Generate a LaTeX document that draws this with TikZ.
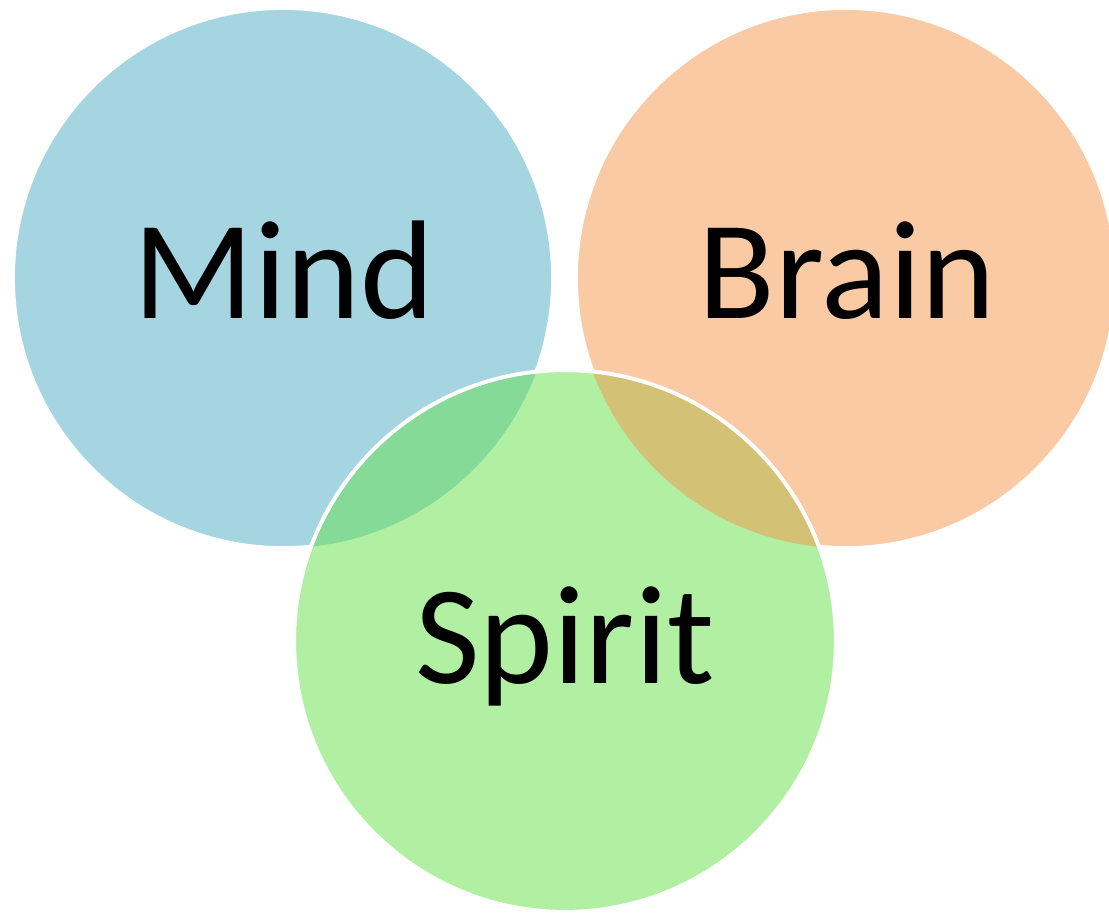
\documentclass[tikz,border=0pt]{standalone}
\usepackage{fontspec}
\setmainfont{Carlito}
\usepackage{tikz}
\usetikzlibrary{positioning}
\definecolor{mindblau}{HTML}{A6D5E2}
\definecolor{brainorange}{HTML}{F9CAA4}
\definecolor{spiritgruen}{HTML}{B1EFA3}
\definecolor{mindspirit}{HTML}{84DA96}
\definecolor{brainspirit}{HTML}{D3C276}

\begin{document}
\begin{tikzpicture}[x=0.025cm, y=-0.025cm]

    % --- Stile ---
    \tikzset{
        kreis/.style={draw=white, line width=2.8pt},
        wort/.style={anchor=base, inner sep=0pt, font=\fontsize{100}{120}\selectfont}
    }

    \useasboundingbox (0,0) rectangle (1109,913);
    \clip (0,0) rectangle (1109,913);

    % --- Kreise ---
    \coordinate (M) at (283,278);
    \coordinate (B) at (846,278);
    \coordinate (S) at (565,641);

    \filldraw[kreis, fill=mindblau]    (M) circle[radius=6.75cm];
    \filldraw[kreis, fill=brainorange] (B) circle[radius=6.75cm];
    \fill[spiritgruen]                 (S) circle[radius=6.77cm];

    % --- Schnittflaechen ---
    \begin{scope}
        \clip (M) circle[radius=6.75cm];
        \fill[mindspirit] (S) circle[radius=6.77cm];
    \end{scope}
    \begin{scope}
        \clip (B) circle[radius=6.75cm];
        \fill[brainspirit] (S) circle[radius=6.77cm];
    \end{scope}
    \draw[kreis] (S) circle[radius=6.77cm];

    % --- Beschriftungen ---
    \node[wort] (mind)   at (284,318) {Mind};
    \node[wort] (brain)  at (847,318) {Brain};
    \node[wort] (spirit) at (565,683) {Spirit};

\end{tikzpicture}
\end{document}
